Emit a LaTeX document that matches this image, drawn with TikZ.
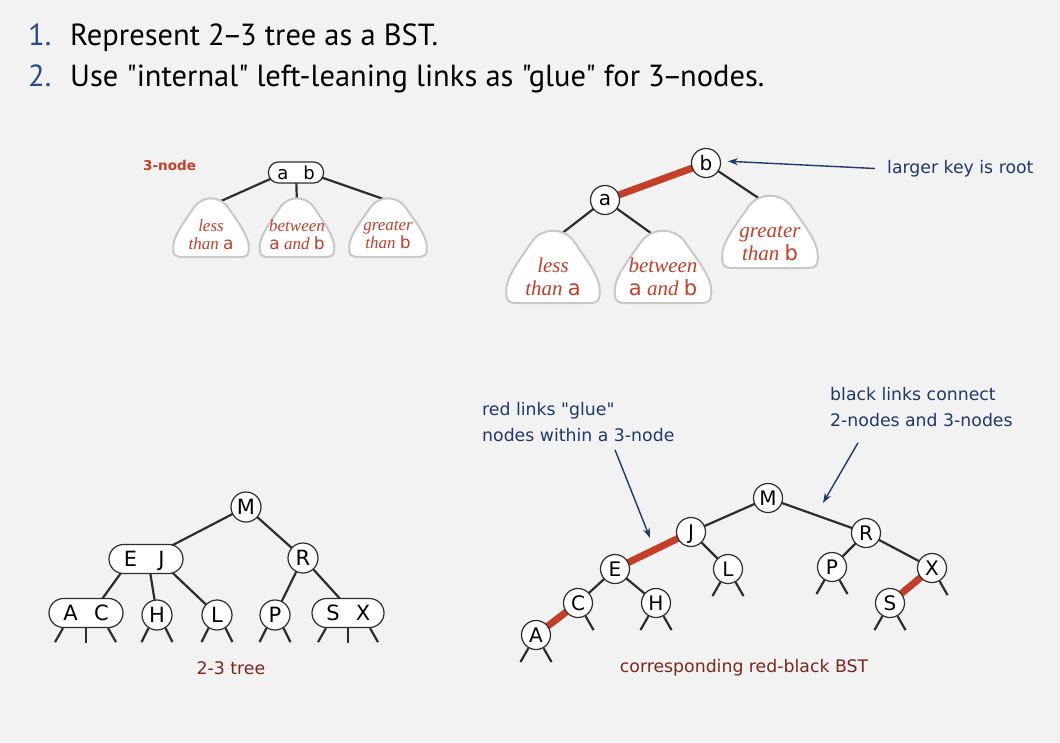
\documentclass[tikz,border=0pt]{standalone}
\usepackage{fontspec}
\setmainfont{DejaVu Sans}
\newfontfamily\notefont{DejaVu Sans}
\newfontfamily\titlefont{PT Sans}
\newfontfamily\blobfont{Liberation Serif}
\usetikzlibrary{arrows.meta}
\definecolor{bgcol}{RGB}{242,242,242}
\definecolor{navy}{RGB}{33,55,110}
\definecolor{numblue}{RGB}{40,75,140}
\definecolor{redlink}{RGB}{196,62,40}
\definecolor{redtext}{RGB}{196,62,40}
\definecolor{captred}{RGB}{125,38,30}
\definecolor{blobgray}{RGB}{200,200,200}
\definecolor{linkgray}{RGB}{45,45,45}
\pgfdeclarelayer{back}
\pgfdeclarelayer{links}
\pgfsetlayers{back,links,main}
\newcommand\kf[1]{{\normalfont #1}}
% cx, top, bottom, half width
\newcommand\tblob[4]{%
  \path[blobshape] ({#1-0.43*#4},{#2+0.15*(#3-#2)})
    .. controls ({#1-0.2*#4},{#2-0.02*(#3-#2)}) and ({#1+0.2*#4},{#2-0.02*(#3-#2)}) .. ({#1+0.43*#4},{#2+0.15*(#3-#2)})
    .. controls ({#1+0.7*#4},{#2+0.4*(#3-#2)}) and ({#1+0.95*#4},{#2+0.6*(#3-#2)}) .. ({#1+#4},{#2+0.78*(#3-#2)})
    .. controls ({#1+1.03*#4},{#3}) and ({#1+0.95*#4},{#3}) .. ({#1+0.7*#4},{#3})
    -- ({#1-0.7*#4},{#3})
    .. controls ({#1-0.95*#4},{#3}) and ({#1-1.03*#4},{#3}) .. ({#1-#4},{#2+0.78*(#3-#2)})
    .. controls ({#1-0.95*#4},{#2+0.6*(#3-#2)}) and ({#1-0.7*#4},{#2+0.4*(#3-#2)}) .. cycle;}
\begin{document}
\begin{tikzpicture}[x=1pt,y=-1pt,
  titlenum/.style={anchor=base west,inner sep=0pt,text=numblue,font=\titlefont\fontsize{30.5}{30}\selectfont},
  titletext/.style={anchor=base west,inner sep=0pt,text=black,font=\titlefont\fontsize{30.5}{30}\selectfont},
  keybase/.style={circle,draw=linkgray,fill=white,line width=1.2pt,inner sep=0pt,text depth=0pt},
  key23/.style={keybase,minimum size=30pt,font=\fontsize{21}{21}\selectfont},
  keyrb/.style={keybase,minimum size=29pt,font=\fontsize{20}{20}\selectfont},
  pair23/.style={rectangle,rounded corners=14.5pt,draw=linkgray,fill=white,line width=1.2pt,inner sep=0pt,minimum width=74pt,minimum height=29pt,text depth=0pt,font=\fontsize{21}{21}\selectfont},
  pairsmall/.style={rectangle,rounded corners=10pt,draw=linkgray,fill=white,line width=1.2pt,inner sep=0pt,minimum width=55pt,minimum height=21pt,font=\fontsize{18}{18}\selectfont},
  link/.style={draw=linkgray,line width=2.2pt},
  redl/.style={draw=redlink,line width=7pt},
  note/.style={text=navy,inner sep=0pt,align=left,font=\notefont\fontsize{17.3}{26}\selectfont},
  callout/.style={draw=navy,line width=1.4pt,-{Stealth[length=10pt,width=7pt]}},
  caption/.style={text=captred,inner sep=0pt,font=\fontsize{17.3}{20}\selectfont},
  blobshape/.style={draw=blobgray,fill=white,line width=2pt},
  btxtsmall/.style={text=redtext,align=center,inner sep=0pt,font=\blobfont\itshape\fontsize{17}{18}\selectfont},
  btxtlarge/.style={text=redtext,align=center,inner sep=0pt,font=\blobfont\itshape\fontsize{21}{23}\selectfont},
  redlabel/.style={anchor=west,inner sep=0pt,text=redtext,font=\bfseries\fontsize{13.5}{13.5}\selectfont}
]
\begin{pgfonlayer}{back}
\fill[bgcol] (0,0) rectangle (1060,742);
\end{pgfonlayer}
\useasboundingbox (0,0) rectangle (1060,742);

% ---------- title ----------
\node[titlenum] (num1) at (28,45) {1.};
\node[titletext] (line1) at (70,45) {Represent 2\kern-0.08em–\kern-0.08em3 tree as a BST.};
\node[titlenum] (num2) at (28,86) {2.};
\node[titletext] (line2) at (70,86) {Use "internal" left-leaning links as "glue" for 3\kern-0.08em–\kern-0.08emnodes.};

% ---------- 3-node (top left) ----------
\node[redlabel] (threenode) at (143,165) {3-node};
\node[pairsmall] (ab) at (296,172.5) {\makebox[26pt]{a}\makebox[26pt]{b}};
\tblob{211}{197}{257}{37.5}
\tblob{297}{197}{257}{37}
\tblob{388}{197}{257}{38.5}
\coordinate (s1) at (213,204.6);
\coordinate (s2) at (297,205);
\coordinate (s3) at (390,201.3);
\node[btxtsmall] (tsl) at (211,235) {less\\than \kf{a}};
\node[btxtsmall] (tsm) at (297,235) {between\\\kf{a} and \kf{b}};
\node[btxtsmall] (tsr) at (388,235) {greater\\than \kf{b}};
\begin{pgfonlayer}{links}
\draw[link] ([yshift=5pt]ab.center) -- (s1);
\draw[link] (ab.center) -- (s2);
\draw[link] ([yshift=4pt]ab.center) -- (s3);
\end{pgfonlayer}

% ---------- BST version (top right) ----------
\node[keyrb] (ka) at (605,200) {a};
\node[keyrb] (kb) at (706,163) {b};
\tblob{553}{229}{303}{46.5}
\tblob{663}{229}{303}{48}
\tblob{770}{194}{268}{47.5}
\coordinate (bl) at (558,236.4);
\coordinate (bm) at (655,236);
\coordinate (br) at (764,201.7);
\node[btxtlarge] (tll) at (553,277) {less\\than \kf{a}};
\node[btxtlarge] (tlm) at (663,277) {between\\\kf{a} and \kf{b}};
\node[btxtlarge] (tlr) at (770,243) {greater\\than \kf{b}};
\begin{pgfonlayer}{links}
\draw[redl] (ka.center) -- (kb.center);
\draw[link] (ka.center) -- (bl);
\draw[link] (ka.center) -- (bm);
\draw[link] (kb.center) -- (br);
\end{pgfonlayer}
\node[note,anchor=west] (lkr) at (887,168.5) {larger key is root};
\draw[callout,shorten >=7pt] ([xshift=-12pt]lkr.west) -- (kb.8);

% ---------- 2-3 tree (bottom left) ----------
\node[key23] (M23) at (246,507) {M};
\node[pair23] (EJ) at (146,559) {\makebox[31pt]{E}\makebox[31pt]{J}};
\node[key23] (R23) at (303,558) {R};
\node[pair23] (AC) at (86,613) {\makebox[31pt]{A}\makebox[31pt]{C}};
\node[key23] (H23) at (157,615) {H};
\node[key23] (L23) at (217,615) {L};
\node[key23] (P23) at (275,615) {P};
\node[pair23,minimum width=72pt] (SX) at (348,613) {\makebox[30pt]{S}\makebox[30pt]{X}};
\begin{pgfonlayer}{links}
\draw[link] (M23.center) -- (EJ.center);
\draw[link] (M23.center) -- (R23.center);
\draw[link] ([xshift=-15pt]EJ.center) -- ([xshift=6pt]AC.center);
\draw[link] ([xshift=2pt]EJ.center) -- (H23.center);
\draw[link] ([xshift=12pt]EJ.center) -- (L23.center);
\draw[link] (R23.center) -- (P23.center);
\draw[link] (R23.center) -- ([xshift=5pt]SX.center);
\end{pgfonlayer}
\draw[link] ([xshift=-23pt]AC.south) -- ++(-8,14);
\draw[link] (AC.south) -- ++(0,15);
\draw[link] ([xshift=22pt]AC.south) -- ++(8,14);
\draw[link] ([xshift=-22pt]SX.south) -- ++(-8,14);
\draw[link] (SX.south) -- ++(0,15);
\draw[link] ([xshift=22pt]SX.south) -- ++(8,14);
\foreach \n in {H23,L23,P23}{
  \draw[link] (\n.237) -- ++(-7,14);
  \draw[link] (\n.303) -- ++(7,14);
}
\node[caption] (cap23) at (231,668) {2-3 tree};

% ---------- red-black BST (bottom right) ----------
\node[keyrb] (Mrb) at (768,498) {M};
\node[keyrb] (Jrb) at (691,532) {J};
\node[keyrb] (Rrb) at (866,533) {R};
\node[keyrb] (Erb) at (615,569) {E};
\node[keyrb] (Lrb) at (728,569) {L};
\node[keyrb] (Prb) at (832,567) {P};
\node[keyrb] (Xrb) at (932,568) {X};
\node[keyrb] (Crb) at (578,603) {C};
\node[keyrb] (Hrb) at (656,603) {H};
\node[keyrb] (Srb) at (890,603) {S};
\node[keyrb] (Arb) at (536,635) {A};
\begin{pgfonlayer}{links}
\draw[link] (Mrb.center) -- (Jrb.center);
\draw[link] (Mrb.center) -- (Rrb.center);
\draw[redl] (Jrb.center) -- (Erb.center);
\draw[link] (Jrb.center) -- (Lrb.center);
\draw[link] (Erb.center) -- (Crb.center);
\draw[link] (Erb.center) -- (Hrb.center);
\draw[redl] (Crb.center) -- (Arb.center);
\draw[link] (Rrb.center) -- (Prb.center);
\draw[link] (Rrb.center) -- (Xrb.center);
\draw[redl] (Xrb.center) -- (Srb.center);
\end{pgfonlayer}
\foreach \n in {Arb,Hrb,Lrb,Prb,Srb}{
  \draw[link] (\n.240) -- ++(-8,14);
  \draw[link] (\n.300) -- ++(8,14);
}
\draw[link] (Crb.300) -- ++(8,14);
\draw[link] (Xrb.300) -- ++(8,14);
\node[caption] (caprb) at (744,668) {corresponding red-black BST};

% ---------- callouts ----------
\node[note,anchor=north west] (rednote) at (482,402) {red links "glue"\\nodes within a 3-node};
\coordinate (rtip) at (650,538);
\draw[callout] ([xshift=133pt,yshift=-8pt]rednote.south west) -- (rtip);
\node[note,anchor=north west] (blacknote) at (830,387) {black links connect\\2-nodes and 3-nodes};
\coordinate (btip) at (823,503);
\draw[callout] ([xshift=28pt,yshift=-16pt]blacknote.south west) -- (btip);
\end{tikzpicture}
\end{document}
